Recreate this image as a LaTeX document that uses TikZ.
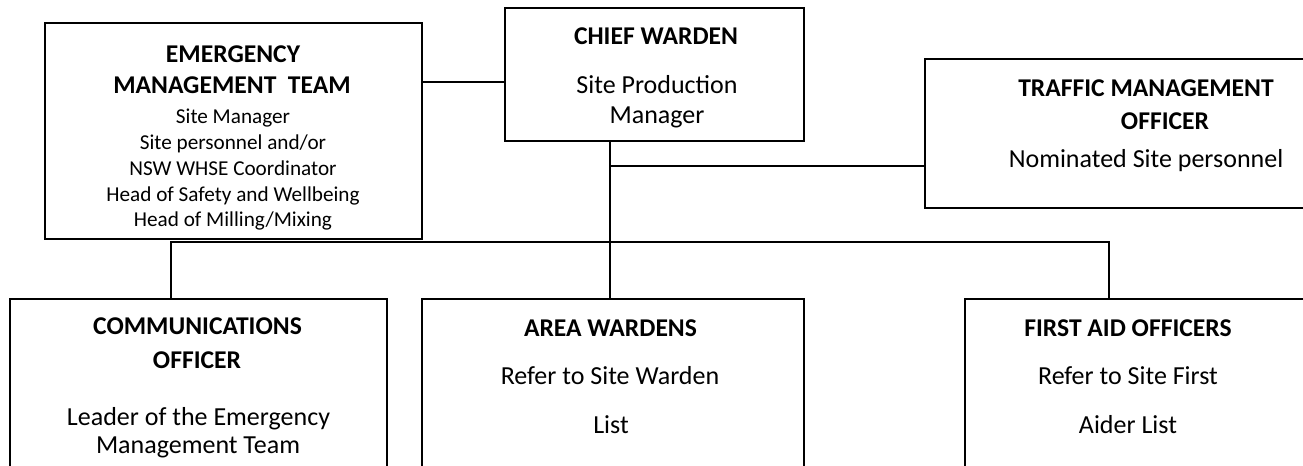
\documentclass[tikz,border=0pt]{standalone}
\usepackage{fontspec}
\setmainfont{Carlito}
\begin{document}
\begin{tikzpicture}[x=0.5pt,y=-0.5pt,
  box/.style={draw,line width=0.9pt,inner sep=0pt},
  conn/.style={line width=0.9pt},
  tx/.style={anchor=base,inner sep=0pt,font=\fontsize{13}{15}\selectfont},
  tb/.style={anchor=base,inner sep=0pt,font=\fontsize{12.8}{15}\selectfont\bfseries},
  ts/.style={anchor=base,inner sep=0pt,font=\fontsize{10.6}{12}\selectfont}]
\useasboundingbox (0,0) rectangle (1303,466);
\clip (0,0) rectangle (1303,466);
% boxes
\node[box,minimum width=188.5pt,minimum height=108pt] (emt) at (233.5,131) {};
\node[box,minimum width=149.5pt,minimum height=66.5pt] (cw) at (654.5,74.5) {};
\node[box,minimum width=197.5pt,minimum height=74.5pt] (tmo) at (1122.5,133.5) {};
\node[box,minimum width=188.5pt,minimum height=90.5pt] (com) at (198.5,389.5) {};
\node[box,minimum width=191pt,minimum height=90.5pt] (aw) at (613,389.5) {};
\node[box,minimum width=177.5pt,minimum height=90.5pt] (fa) at (1142.5,389.5) {};
% texts
\node[tb] (emt1) at (233,62) {EMERGENCY};
\node[tb] (emt2) at (232,93) {MANAGEMENT\ \ TEAM};
\node[ts] (emt3) at (233,123) {Site Manager};
\node[ts] (emt4) at (233,149) {Site personnel and/or};
\node[ts] (emt5) at (233,175) {NSW WHSE Coordinator};
\node[ts] (emt6) at (233,201) {Head of Safety and Wellbeing};
\node[ts] (emt7) at (233,226) {Head of Milling/Mixing};
\node[tb] (cw1) at (656,45) {CHIEF WARDEN};
\node[tx] (cw2) at (657,93) {Site Production};
\node[tx] (cw3) at (657,123) {Manager};
\node[tb] (tmo1) at (1146,97) {TRAFFIC MANAGEMENT};
\node[tb] (tmo2) at (1165,129) {OFFICER};
\node[tx] (tmo3) at (1146,167) {Nominated Site personnel};
\node[tb] (com1) at (197.5,334) {COMMUNICATIONS};
\node[tb] (com2) at (197,368) {OFFICER};
\node[tx] (com3) at (198.5,425) {Leader of the Emergency};
\node[tx] (com4) at (198,453) {Management Team};
\node[tb] (aw1) at (610.5,336) {AREA WARDENS};
\node[tx] (aw2) at (610,384) {Refer to Site Warden};
\node[tx] (aw3) at (611,433) {List};
\node[tb] (fa1) at (1128,336) {FIRST AID OFFICERS};
\node[tx] (fa2) at (1128,384) {Refer to Site First};
\node[tx] (fa3) at (1128,433) {Aider List};
% junctions
\coordinate (j1) at (0,82);
\coordinate (jt) at (610,166);
\coordinate (bl) at (171,242);
\coordinate (br) at (1109,242);
% connectors
\draw[conn] (emt.east |- j1) -- (cw.west |- j1);
\draw[conn] (cw.south -| jt) -- (aw.north -| jt);
\draw[conn] (jt) -- (tmo.west |- jt);
\draw[conn] (com.north -| bl) -- (bl) -- (br) -- (fa.north -| br);
\end{tikzpicture}
\end{document}
